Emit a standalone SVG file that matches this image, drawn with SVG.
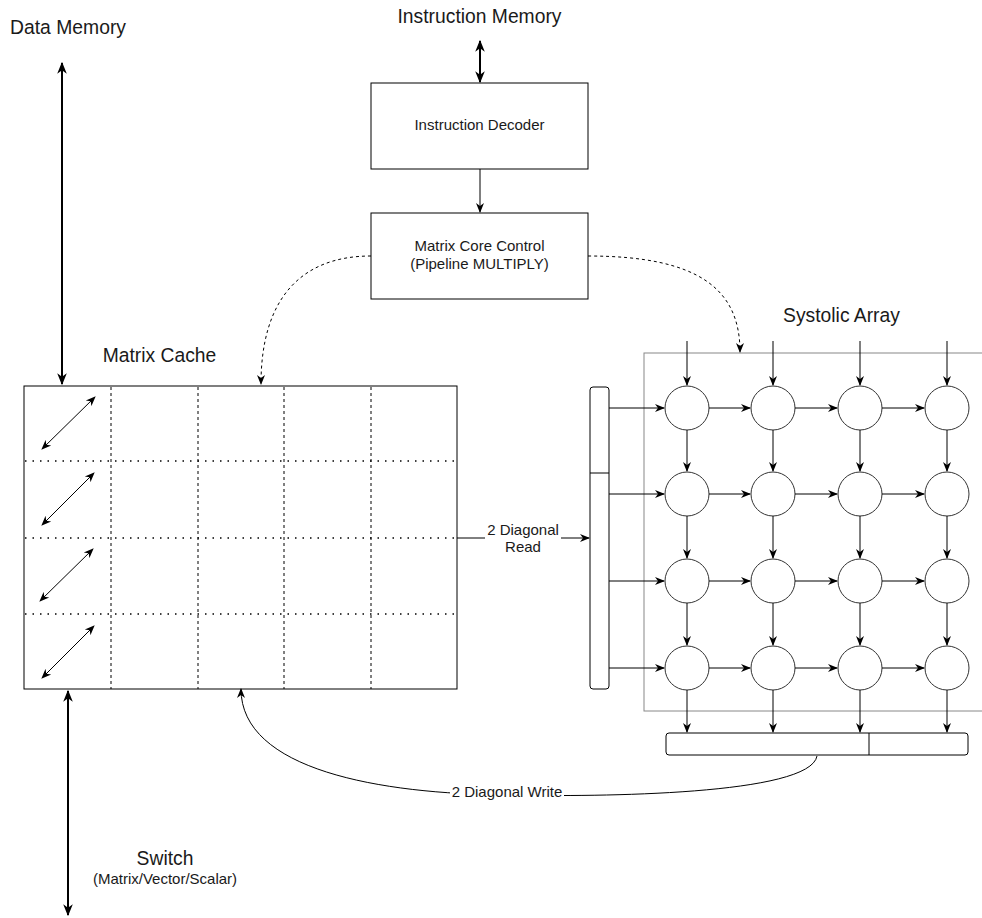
<svg xmlns="http://www.w3.org/2000/svg" width="982" height="918" viewBox="0 0 982 918">
<style>
text{font-family:"Liberation Sans",Arial,Helvetica,sans-serif;fill:#1a1a1a}
.big{font-size:19.3px}
.sm{font-size:15px}
.box{fill:#fff;stroke:#000;stroke-width:1}
.ln{fill:none;stroke:#000;stroke-width:1}
.thick{fill:none;stroke:#000;stroke-width:2}
.dash{fill:none;stroke:#000;stroke-width:1;stroke-dasharray:3 3}
.dot{fill:none;stroke:#000;stroke-width:1.5;stroke-dasharray:1.5 6}
.vd{fill:none;stroke:#000;stroke-width:1;stroke-dasharray:3 3}
.pe{fill:#fff;stroke:#333;stroke-width:1}
</style>
<defs>
<marker id="a" viewBox="0 0 10 10" refX="9" refY="5" markerWidth="10" markerHeight="10" orient="auto-start-reverse" markerUnits="userSpaceOnUse"><path d="M0,1 L10,5 L0,9 L3,5 Z" fill="#000"/></marker>
<marker id="ab" viewBox="0 0 10 10" refX="9" refY="5" markerWidth="12" markerHeight="12" orient="auto-start-reverse" markerUnits="userSpaceOnUse"><path d="M0,1 L10,5 L0,9 L3,5 Z" fill="#000"/></marker>
</defs>

<g id="data-memory"><text class="big" x="10" y="34" textLength="116" lengthAdjust="spacingAndGlyphs">Data Memory</text></g>
<g id="instruction-memory"><text class="big" x="479.5" y="23" text-anchor="middle">Instruction Memory</text></g>

<g id="instruction-decoder">
<rect class="box" x="371" y="83" width="217" height="86"/>
<text class="sm" x="479.5" y="130" text-anchor="middle">Instruction Decoder</text>
</g>

<g id="matrix-core-control">
<rect class="box" x="371" y="213" width="217" height="86"/>
<text class="sm" x="479.5" y="251" text-anchor="middle">Matrix Core Control</text>
<text class="sm" x="479.5" y="269" text-anchor="middle">(Pipeline MULTIPLY)</text>
</g>

<g id="matrix-cache">
<text class="big" x="159.5" y="362" text-anchor="middle">Matrix Cache</text>
<rect class="box" x="24" y="386" width="433" height="303"/>
<path class="vd" d="M111,387V689M198,387V689M284,387V689M371,387V689"/>
<path class="dot" d="M25,461H457M25,538H457M25,614H457"/>
<path class="ln" marker-start="url(#a)" marker-end="url(#a)" d="M42,449L95,397"/>
<path class="ln" marker-start="url(#a)" marker-end="url(#a)" d="M42,525L94,473"/>
<path class="ln" marker-start="url(#a)" marker-end="url(#a)" d="M40,601L93,549"/>
<path class="ln" marker-start="url(#a)" marker-end="url(#a)" d="M42,678L94,626"/>
</g>

<g id="systolic-array">
<text class="big" x="841.5" y="322" text-anchor="middle">Systolic Array</text>
<rect x="644" y="353" width="345" height="358" fill="none" stroke="#888" stroke-width="1"/>
</g>

<g id="input-buffer">
<rect class="box" x="590" y="387" width="19" height="302" rx="3"/>
<path class="ln" d="M590,473H609"/>
</g>

<g id="output-buffer">
<rect class="box" x="666" y="733" width="302" height="22" rx="3"/>
<path class="ln" d="M869,733V755"/>
</g>

<g id="pe-array">
<circle class="pe" cx="687" cy="408" r="22"/><circle class="pe" cx="773" cy="408" r="22"/><circle class="pe" cx="860" cy="408" r="22"/><circle class="pe" cx="947" cy="408" r="22"/>
<circle class="pe" cx="687" cy="494" r="22"/><circle class="pe" cx="773" cy="494" r="22"/><circle class="pe" cx="860" cy="494" r="22"/><circle class="pe" cx="947" cy="494" r="22"/>
<circle class="pe" cx="687" cy="581" r="22"/><circle class="pe" cx="773" cy="581" r="22"/><circle class="pe" cx="860" cy="581" r="22"/><circle class="pe" cx="947" cy="581" r="22"/>
<circle class="pe" cx="687" cy="668" r="22"/><circle class="pe" cx="773" cy="668" r="22"/><circle class="pe" cx="860" cy="668" r="22"/><circle class="pe" cx="947" cy="668" r="22"/>
</g>

<g id="switch">
<text class="big" x="165" y="865" text-anchor="middle">Switch</text>
<text class="sm" x="165" y="884" text-anchor="middle">(Matrix/Vector/Scalar)</text>
</g>

<g id="connectors">
<path class="thick" marker-start="url(#ab)" marker-end="url(#ab)" d="M62,63V384"/>
<path class="thick" marker-start="url(#ab)" marker-end="url(#ab)" d="M68,691V915"/>
<path class="thick" marker-start="url(#ab)" marker-end="url(#ab)" d="M480,41V82"/>
<path class="ln" marker-end="url(#a)" d="M480,169V212"/>
<path class="dash" marker-end="url(#a)" d="M371,256C300,256 261,300 261,384"/>
<path class="dash" marker-end="url(#a)" d="M588,256C700,256 740,290 740,352"/>
<path class="ln" marker-end="url(#a)" d="M457,538H589"/>
<rect x="485" y="518" width="76" height="36" fill="#fff"/>
<text class="sm" x="523" y="535" text-anchor="middle">2 Diagonal</text>
<text class="sm" x="523" y="552" text-anchor="middle">Read</text>
<path class="ln" marker-end="url(#a)" d="M817,756C810,795 600,797 508,795C380,794 241,770 241,689"/>
<rect x="450" y="785" width="114" height="17" fill="#fff"/>
<text class="sm" x="507" y="797" text-anchor="middle">2 Diagonal Write</text>
<g class="ln">
<path marker-end="url(#a)" d="M687,341V385"/><path marker-end="url(#a)" d="M773,341V385"/><path marker-end="url(#a)" d="M860,341V385"/><path marker-end="url(#a)" d="M947,341V385"/>
<path marker-end="url(#a)" d="M687,430V471"/><path marker-end="url(#a)" d="M773,430V471"/><path marker-end="url(#a)" d="M860,430V471"/><path marker-end="url(#a)" d="M947,430V471"/>
<path marker-end="url(#a)" d="M687,516V558"/><path marker-end="url(#a)" d="M773,516V558"/><path marker-end="url(#a)" d="M860,516V558"/><path marker-end="url(#a)" d="M947,516V558"/>
<path marker-end="url(#a)" d="M687,603V645"/><path marker-end="url(#a)" d="M773,603V645"/><path marker-end="url(#a)" d="M860,603V645"/><path marker-end="url(#a)" d="M947,603V645"/>
<path marker-end="url(#a)" d="M687,690V732"/><path marker-end="url(#a)" d="M773,690V732"/><path marker-end="url(#a)" d="M860,690V732"/><path marker-end="url(#a)" d="M947,690V732"/>
<path marker-end="url(#a)" d="M609,408H664"/><path marker-end="url(#a)" d="M609,494H664"/><path marker-end="url(#a)" d="M609,581H664"/><path marker-end="url(#a)" d="M609,668H664"/>
<path marker-end="url(#a)" d="M709,408H750"/><path marker-end="url(#a)" d="M795,408H837"/><path marker-end="url(#a)" d="M882,408H924"/>
<path marker-end="url(#a)" d="M709,494H750"/><path marker-end="url(#a)" d="M795,494H837"/><path marker-end="url(#a)" d="M882,494H924"/>
<path marker-end="url(#a)" d="M709,581H750"/><path marker-end="url(#a)" d="M795,581H837"/><path marker-end="url(#a)" d="M882,581H924"/>
<path marker-end="url(#a)" d="M709,668H750"/><path marker-end="url(#a)" d="M795,668H837"/><path marker-end="url(#a)" d="M882,668H924"/>
</g>
</g>
</svg>
